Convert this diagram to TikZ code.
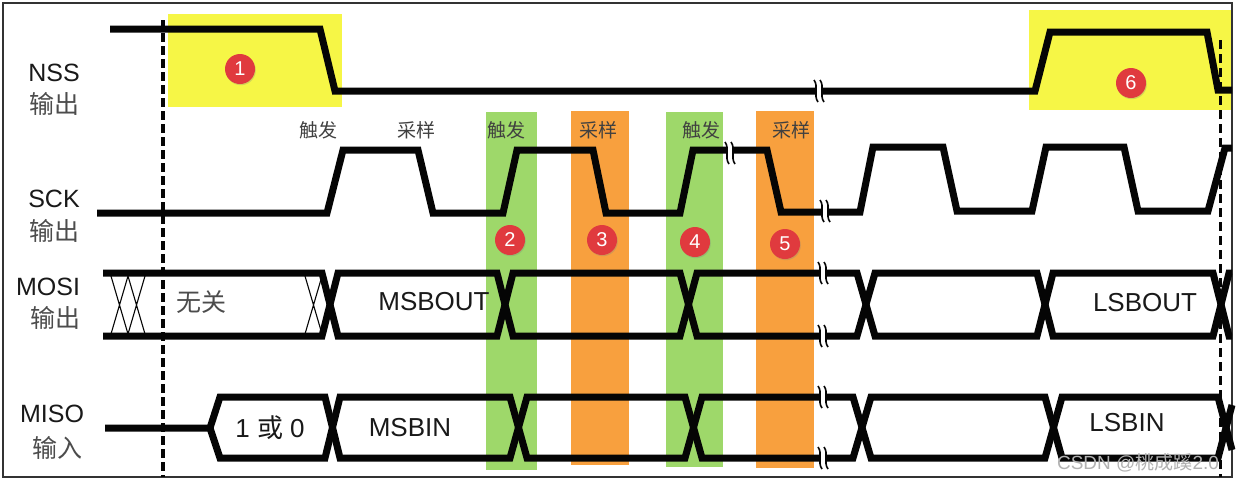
\documentclass[tikz,border=0pt]{standalone}
\usepackage{fontspec}
\setmainfont{Liberation Sans}
\newfontfamily\cjk{Noto Sans CJK SC}
\usetikzlibrary{shadows}
\definecolor{hlyellow}{RGB}{246,246,70}
\definecolor{bandgreen}{RGB}{158,216,106}
\definecolor{bandorange}{RGB}{248,160,62}
\definecolor{numred}{RGB}{224,58,62}
\definecolor{sig}{RGB}{5,5,5}
\tikzset{
  sigline/.style={line width=7pt, line join=miter, color=sig},
  hatch/.style={line width=1.1pt, color=sig},
  numc/.style={circle, fill=numred, text=white, minimum size=30pt, inner sep=0pt,
    font=\fontsize{20}{20}\selectfont,
    drop shadow={shadow xshift=0.8pt, shadow yshift=-1.2pt, opacity=0.3}},
  lab/.style={font=\fontsize{25}{28}\selectfont, text=black!90},
  clab/.style={font=\cjk\fontsize{25}{28}\selectfont, text=black!70},
  toplab/.style={font=\cjk\fontsize{19}{22}\selectfont, text=black!75},
  buslab/.style={font=\fontsize{26}{28}\selectfont, text=black!90},
  brk/.pic={
    \fill[white] (-4,-11) .. controls (1,-4) and (-5,4) .. (0,11) -- (6,11) .. controls (1,4) and (7,-4) .. (2,-11) -- cycle;
    \draw[line width=1.6pt, sig] (-4,-11) .. controls (1,-4) and (-5,4) .. (0,11)
      (2,-11) .. controls (7,-4) and (1,4) .. (6,11);
  }
}
\begin{document}
\begin{tikzpicture}[x=1pt,y=-1pt]
\useasboundingbox (0,0) rectangle (1236,483);
\fill[white] (0,0) rectangle (1236,483);
% highlight regions
\fill[hlyellow] (168,14) rectangle (342,107);
\fill[hlyellow] (1029,10) rectangle (1232,110);
\fill[bandgreen] (486,112) rectangle (537,470);
\fill[bandorange] (571,111) rectangle (629,465);
\fill[bandgreen] (666,112) rectangle (723,467);
\fill[bandorange] (756,111) rectangle (814,468);
% border
\draw[line width=2pt, black!80] (3,3) rectangle (1232,477);
% signal names
\node[lab] (nss) at (54,73) {NSS};
\node[clab] (nssd) at (54,104) {输出};
\node[lab] (sck) at (54,199) {SCK};
\node[clab] (sckd) at (54,231) {输出};
\node[lab] (mosi) at (48,287) {MOSI};
\node[clab] (mosid) at (55,318) {输出};
\node[lab] (miso) at (52,414) {MISO};
\node[clab] (misod) at (57,448) {输入};
% top labels
\node[toplab] (t1) at (318,130) {触发};
\node[toplab] (t2) at (416,130) {采样};
\node[toplab] (t3) at (506,130) {触发};
\node[toplab] (t4) at (598,130) {采样};
\node[toplab] (t5) at (701,130) {触发};
\node[toplab] (t6) at (791,130) {采样};
% NSS
\draw[sigline] (110,29) -- (320,29) -- (335,91) -- (1035,91) -- (1050,32) -- (1207,32) -- (1218,90) -- (1232,90);
% SCK
\draw[sigline] (97,213) -- (327,213) -- (343,150) -- (418,150) -- (433,213) -- (503,213) -- (517,150) -- (593,150) -- (606,213) -- (680,213) -- (693,150) -- (767,150) -- (781,212) -- (860,212) -- (873,147) -- (943,147) -- (957,211) -- (1032,211) -- (1046,147) -- (1124,147) -- (1138,211) -- (1208,211) -- (1225,148) -- (1232,148);
% MOSI
\draw[sigline] (103,273) -- (322,273) -- (338,336) -- (497,336) -- (513,273) -- (680,273) -- (697,336) -- (857,336) -- (875,273) -- (1037,273) -- (1053,336) -- (1213,336) -- (1229,273) -- (1232,273);
\draw[sigline] (103,336) -- (322,336) -- (338,273) -- (497,273) -- (513,336) -- (680,336) -- (697,273) -- (857,273) -- (875,336) -- (1037,336) -- (1053,273) -- (1213,273) -- (1229,336) -- (1232,336);
\draw[hatch] (111,276) -- (128,334) (128,276) -- (111,334) (128,276) -- (145,334) (145,276) -- (128,334);
\draw[hatch] (305,276) -- (322,334) (322,276) -- (305,334);
% MISO
\draw[sigline] (105,428) -- (210,428) -- (220,397) -- (325,397) -- (340,458) -- (510,458) -- (527,397) -- (685,397) -- (702,458) -- (853,458) -- (871,397) -- (1045,397) -- (1062,458) -- (1218,458) -- (1232,405);
\draw[sigline] (210,428) -- (220,458) -- (325,458) -- (340,397) -- (510,397) -- (527,458) -- (685,458) -- (702,397) -- (853,397) -- (871,458) -- (1045,458) -- (1062,397) -- (1218,397) -- (1232,450);
% break marks
\pic at (818,91) {brk};
\pic at (729,153) {brk};
\pic at (824,211) {brk};
\pic at (822,273) {brk};
\pic at (822,336) {brk};
\pic at (822,397) {brk};
\pic at (822,458) {brk};
% dashed guides
\draw[line width=3.8pt, dash pattern=on 9pt off 4pt, sig] (163,20) -- (163,477);
\draw[line width=3pt, dash pattern=on 9pt off 5pt, sig] (1220,40) -- (1220,477);
% bus texts
\node[clab, text=black!70] (dc) at (201,302) {无关};
\node[buslab] (msbout) at (434,302) {MSBOUT};
\node[buslab] (zo) at (270,428) {1 {\cjk 或} 0};
\node[buslab] (msbin) at (410,428) {MSBIN};
\node[buslab] (lsbout) at (1145,303) {LSBOUT};
\node[buslab] (lsbin) at (1127,423) {LSBIN};
% numbered markers
\node[numc] (n1) at (240,69) {1};
\node[numc] (n2) at (510,240) {2};
\node[numc] (n3) at (602,240) {3};
\node[numc] (n4) at (695,242) {4};
\node[numc] (n5) at (785,244) {5};
\node[numc] (n6) at (1131,83) {6};
% watermark
\node[font=\fontsize{19}{20}\selectfont, text=black!30] (wm) at (1138,463) {CSDN @{\cjk 桃成蹊}2.0};
\end{tikzpicture}
\end{document}
